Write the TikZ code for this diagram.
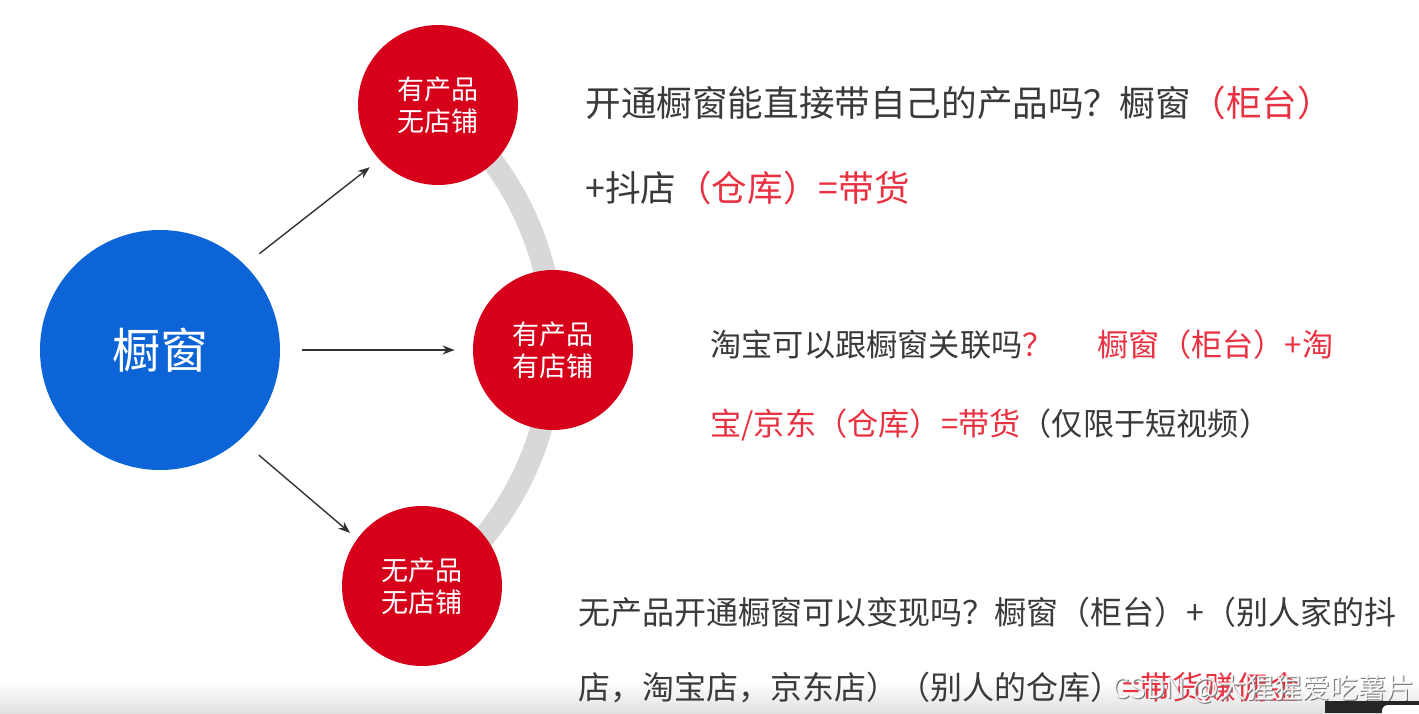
\documentclass[tikz,border=0pt]{standalone}
\usepackage{fontspec}
\newfontfamily\cjk{Noto Sans CJK SC}
\usetikzlibrary{arrows.meta}
\definecolor{cblue}{RGB}{12,100,214}
\definecolor{cred}{RGB}{214,0,26}
\definecolor{tred}{RGB}{232,50,66}
\definecolor{tgray}{RGB}{58,58,58}
\definecolor{arcgray}{RGB}{216,216,216}
\tikzset{
  bigc/.style={circle,fill=cblue,minimum size=120pt,inner sep=0pt,text=white,font=\cjk\fontsize{24pt}{28pt}\selectfont},
  redc/.style={circle,fill=cred,minimum size=80pt,inner sep=0pt,text=white,align=center,font=\cjk\fontsize{13.5pt}{16pt}\selectfont},
  arr/.style={draw=black!80,line width=0.7pt,-{Stealth[length=6pt,width=4.5pt]}},
  arcline/.style={draw=arcgray,line width=11pt},
  txta/.style={anchor=west,inner sep=0pt,text=tgray,font=\cjk\fontsize{17.8pt}{20pt}\selectfont},
  txtb/.style={anchor=west,inner sep=0pt,text=tgray,font=\cjk\fontsize{15.6pt}{18pt}\selectfont},
  txtc/.style={anchor=west,inner sep=0pt,text=tgray,font=\cjk\fontsize{16pt}{19pt}\selectfont},
  wm/.style={anchor=east,inner sep=0pt,font=\cjk\fontsize{14pt}{16pt}\selectfont}
}
\begin{document}
\begin{tikzpicture}[x=0.5pt,y=0.5pt]
\useasboundingbox (0,0) rectangle (1419,713);
\fill[white] (0,0) rectangle (1419,713);
\shade[top color=white,bottom color=black!12] (0,0) rectangle (1419,32);
\coordinate (c1) at (438,608);
% gray arc behind the red circles
\path[arcline] (c1) arc[start angle=51.5,end angle=-53.4,radius=305];
% circles
\node[bigc] (blue) at (160,363) {橱窗};
\node[redc] (r1) at (c1) {有产品\\无店铺};
\node[redc] (r2) at (553,363) {有产品\\有店铺};
\node[redc] (r3) at (422,127) {无产品\\无店铺};
% arrows
\draw[arr,shorten <=9pt,shorten >=6pt] (blue.45) -- (r1.223);
\draw[arr,shorten <=11pt,shorten >=9pt] (blue.0) -- (r2.180);
\draw[arr,shorten <=12pt,shorten >=4.5pt] (blue.-48) -- (r3.144);
% texts
\node[txta] (t1a) at (585,610) {开通橱窗能直接带自己的产品吗？橱窗{\color{tred}（柜台）}};
\node[txta] (t1b) at (585,525) {+抖店{\color{tred}（仓库）=带货}};
\node[txtb] (t2a) at (710,368) {淘宝可以跟橱窗关联吗{\color{tred}？\hspace{22pt}橱窗（柜台）+淘}};
\node[txtb] (t2b) at (710,288) {{\color{tred}宝/京东（仓库）=带货}（仅限于短视频）};
\node[txtc] (t3a) at (578,101) {无产品开通橱窗可以变现吗？橱窗（柜台）+（别人家的抖};
\node[txtc] (t3b) at (578,25) {店，淘宝店，京东店）（别人的仓库）{\color{tred}=带货赚佣金}};
% watermark
\node[wm,text=black!55] (wms) at (1416,23) {CSDN @大猩猩爱吃薯片};
\node[wm,text=white,opacity=0.9] (wm) at (1415,24) {CSDN @大猩猩爱吃薯片};
% corner element
\fill[black!85] (1325,0) rectangle (1419,12);
\fill[white,rounded corners=3pt] (1382,-5) rectangle (1425,8);
\end{tikzpicture}
\end{document}
